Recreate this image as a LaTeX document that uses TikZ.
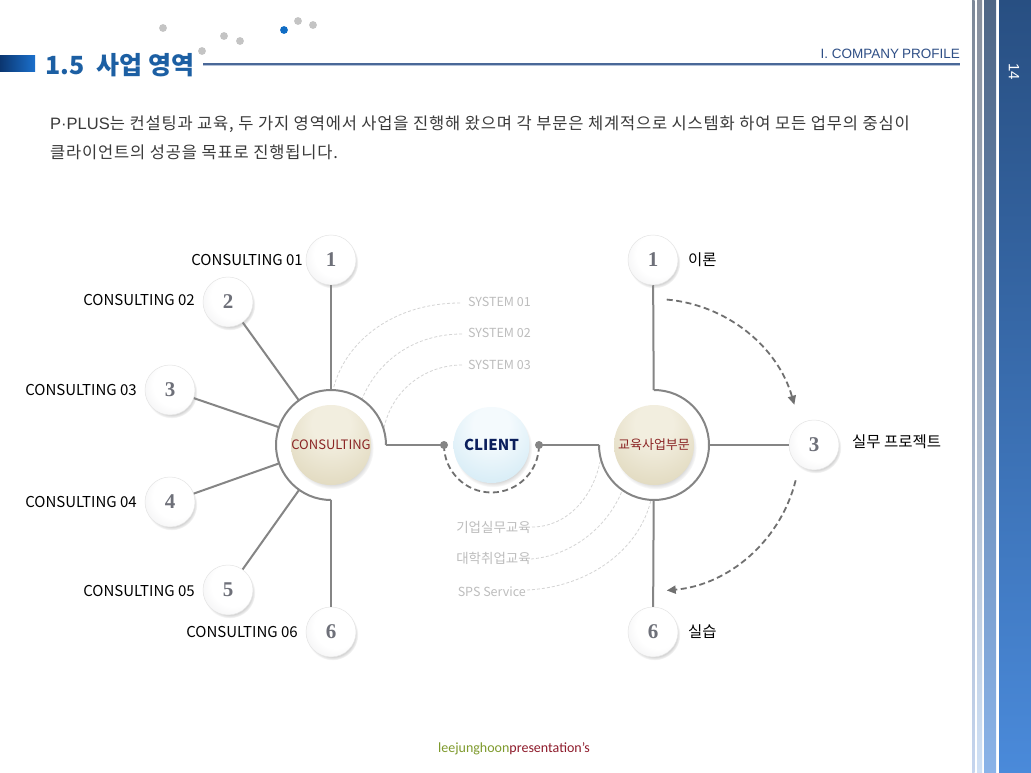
\documentclass[tikz,border=0pt]{standalone}
\usepackage{fontspec}
\setmainfont{Noto Sans CJK KR}
\newfontfamily\numfont{Liberation Serif}
\newfontfamily\footfont{Carlito}
\newfontfamily\latinfont{Liberation Sans}
\newfontfamily\bodyfont[LetterSpace=5]{Noto Sans CJK KR}
\usetikzlibrary{calc,shadows,arrows.meta,fadings}
\definecolor{titleblue}{HTML}{1C5FA3}
\definecolor{barL}{HTML}{0B3670}
\definecolor{barR}{HTML}{1B70CC}
\definecolor{dotgray}{HTML}{C4C4C4}
\definecolor{dotblue}{HTML}{0F6CC4}
\definecolor{hline}{HTML}{4A6898}
\definecolor{hlinelight}{HTML}{B4C2D8}
\definecolor{proftext}{HTML}{2F4F86}
\definecolor{bodytext}{HTML}{3A3A3A}
\definecolor{conngray}{HTML}{858585}
\definecolor{numgray}{HTML}{6E7079}
\definecolor{lightdash}{HTML}{D4D4D4}
\definecolor{lighttext}{HTML}{BDBDBD}
\definecolor{darkred}{HTML}{8B2525}
\definecolor{navy}{HTML}{0B1F5C}
\definecolor{dashgray}{HTML}{707070}
\definecolor{footgreen}{HTML}{7E9A2C}
\definecolor{footred}{HTML}{8E1B2B}
\definecolor{wA}{HTML}{FFFFFF}
\definecolor{wB}{HTML}{E6E6E8}
\definecolor{wC}{HTML}{C2C2C6}
\definecolor{bA}{HTML}{F2EEDF}
\definecolor{bB}{HTML}{DFD7BB}
\definecolor{bC}{HTML}{C4B88E}
\definecolor{bD}{HTML}{A39668}
\definecolor{cA}{HTML}{F4FAFD}
\definecolor{cB}{HTML}{D2EAF5}
\definecolor{cC}{HTML}{AFD4E7}
\definecolor{cD}{HTML}{86B6CF}
\definecolor{s1t}{HTML}{7D8898}
\definecolor{s1b}{HTML}{C5D5EE}
\definecolor{s2t}{HTML}{868E9C}
\definecolor{s2b}{HTML}{CFE0F5}
\definecolor{s3t}{HTML}{4F6685}
\definecolor{s3b}{HTML}{8AB3E8}
\definecolor{s4t}{HTML}{284F82}
\definecolor{s4b}{HTML}{4A8ADA}
\pgfdeclareradialshading{whiteball}{\pgfpoint{8bp}{8bp}}{color(0bp)=(wA); color(22bp)=(wA); color(48bp)=(wB); color(68bp)=(wC)}
\pgfdeclareradialshading{beigeball}{\pgfpoint{0bp}{16bp}}{color(0bp)=(bA); color(12bp)=(bA); color(38bp)=(bB); color(56bp)=(bC); color(68bp)=(bD)}
\pgfdeclareradialshading{blueball}{\pgfpoint{0bp}{16bp}}{color(0bp)=(cA); color(12bp)=(cA); color(38bp)=(cB); color(56bp)=(cC); color(68bp)=(cD)}
\begin{document}
\begin{tikzpicture}[x=1pt,y=1pt,
  num/.style={circle, minimum size=50pt, inner sep=0pt, shading=whiteball, draw=black!10, line width=0.5pt,
    circular drop shadow={shadow xshift=1.5pt, shadow yshift=-2.5pt, shadow scale=1.03, opacity=0.35},
    text=numgray, font=\numfont\bfseries\fontsize{21pt}{21pt}\selectfont},
  hub/.style={circle, minimum size=80pt, inner sep=0pt,
    circular drop shadow={shadow xshift=1.5pt, shadow yshift=-3pt, shadow scale=1.03, opacity=0.35}},
  conn/.style={draw=conngray, line width=2pt},
  ringline/.style={draw=conngray, line width=2pt},
  sysdash/.style={draw=lightdash, line width=0.8pt, dash pattern=on 3pt off 2pt},
  cdash/.style={draw=dashgray, line width=1.8pt, dash pattern=on 6pt off 3.5pt},
  darr/.style={draw=dashgray, line width=1.8pt, dash pattern=on 6pt off 3.5pt, -{Triangle[length=9pt,width=8pt]}},
  clbl/.style={inner sep=0pt, font=\fontsize{15pt}{15pt}\selectfont, text=black},
  klbl/.style={inner sep=0pt, font=\fontsize{15.5pt}{15.5pt}\selectfont, text=black},
  slbl/.style={inner sep=0pt, font=\fontsize{12.5pt}{12.5pt}\selectfont, text=lighttext},
  kslbl/.style={inner sep=0pt, font=\fontsize{13.5pt}{13.5pt}\selectfont, text=lighttext},
  bodyline/.style={inner sep=0pt, anchor=base west, font=\bodyfont\fontsize{16.5pt}{18pt}\selectfont, text=bodytext},
  dotst/.style={fill=conngray}
]
\useasboundingbox (0,0) rectangle (1031,-773);
\fill[white] (0,0) rectangle (1031,-773);

% ---- header ----
\shade[left color=barL, right color=barR] (0,-56) rectangle (35,-72);
\node[anchor=base west, inner sep=0pt, text=titleblue, font=\bfseries\fontsize{25pt}{25pt}\selectfont] (title) at (45,-75) {1.5\hspace{12pt}사업 영역};
\foreach \dx/\dy/\dc in {163/28/dotgray, 202/51/dotgray, 224/36/dotgray, 240/41/dotgray, 284/30/dotblue, 298/21/dotgray, 313/25/dotgray}
  \fill[\dc] (\dx,-\dy) circle[radius=3.9pt];
\coordinate (hlA) at (203,-64);
\coordinate (hlB) at (960,-64);
\draw[hlinelight, line width=1.2pt] ($(hlA)+(0,-1.3)$) -- ($(hlB)+(0,-1.3)$);
\draw[hline, line width=1.2pt] (hlA) -- (hlB);
\node[anchor=base east, inner sep=0pt, text=proftext, font=\latinfont\fontsize{13.5pt}{13.5pt}\selectfont] (prof) at (960,-59) {I. COMPANY\hspace{3pt}PROFILE};

% ---- sidebar ----
\shade[top color=s1t, bottom color=s1b] (972,0) rectangle (974.5,-773);
\shade[top color=s2t, bottom color=s2b] (977,0) rectangle (982,-773);
\shade[top color=s3t, bottom color=s3b] (984,0) rectangle (996,-773);
\shade[top color=s4t, bottom color=s4b] (999,0) rectangle (1031,-773);
\node[rotate=-90, inner sep=0pt, text=white, font=\latinfont\fontsize{15pt}{15pt}\selectfont] (page) at (1014,-72) {14};

% ---- body text ----
\node[bodyline] (p1) at (50,-130) {{\latinfont P·PLUS}는 컨설팅과 교육, 두 가지 영역에서 사업을 진행해 왔으며 각 부문은 체계적으로 시스템화 하여 모든 업무의 중심이};
\node[bodyline] (p2) at (50,-158) {클라이언트의 성공을 목표로 진행됩니다.};

% ---- light dashed system curves ----
\draw[sysdash] (460,-303) .. controls (395,-303) and (345,-340) .. (333,-390);
\draw[sysdash] (462,-334) .. controls (415,-334) and (378,-360) .. (362,-399);
\draw[sysdash] (462,-365) .. controls (425,-365) and (392,-390) .. (384,-428);
\draw[sysdash] (532,-527) .. controls (565,-527) and (592,-500) .. (600,-462);
\draw[sysdash] (531,-559) .. controls (569,-556) and (606,-530) .. (622,-491);
\draw[sysdash] (527,-590) .. controls (589,-587) and (639,-550) .. (651,-500);
\node[slbl, anchor=west] (sys1) at (468,-302) {SYSTEM 01};
\node[slbl, anchor=west] (sys2) at (468,-333) {SYSTEM 02};
\node[slbl, anchor=west] (sys3) at (468,-365) {SYSTEM 03};
\node[kslbl, anchor=east] (edu1) at (531,-527) {기업실무교육};
\node[kslbl, anchor=east] (edu2) at (531,-558) {대학취업교육};
\node[slbl, anchor=east] (edu3) at (526,-592) {SPS Service};

% ---- centres ----
\coordinate (consC) at (331,-445);
\coordinate (eduC) at (654,-445);
\coordinate (clientC) at (491.5,-445);
\coordinate (consR) at ($(consC)+(55,0)$);
\coordinate (eduL) at ($(eduC)+(-55,0)$);
\coordinate (dotL) at (444,-445);
\coordinate (dotR) at (539,-445);

% ---- number circles ----
\node[num] (c1) at (331,-260) {1};
\node[num] (c2) at (228,-302) {2};
\node[num] (c3) at (170,-390) {3};
\node[num] (c4) at (170,-502) {4};
\node[num] (c5) at (228,-590) {5};
\node[num] (c6) at (331,-632) {6};
\node[num] (e1) at (653,-260) {1};
\node[num] (e3) at (814,-445) {3};
\node[num] (e6) at (653,-632) {6};

% ---- rings and connectors ----
\draw[ringline] (consR) arc[start angle=0, end angle=270, radius=55pt];
\draw[ringline] (eduL) arc[start angle=180, end angle=450, radius=55pt];
\foreach \n in {c1,c2,c3,c4,c5,c6}
  \draw[conn] ($(consC)!55pt!(\n)$) -- (\n);
\foreach \n in {e1,e3,e6}
  \draw[conn] ($(eduC)!55pt!(\n)$) -- (\n);
\draw[conn] (consR) -- (dotL);
\draw[conn] (dotR) -- (eduL);
\draw[cdash] (dotL) arc[start angle=180, end angle=360, radius=47.5pt];
\fill[dotst] (dotL) circle[radius=4pt];
\fill[dotst] (dotR) circle[radius=4pt];

% ---- hubs ----
\node[hub, shading=beigeball, text=darkred, font=\fontsize{13pt}{13pt}\selectfont] (cons) at (consC) {CONSULTING};
\node[hub, minimum size=76pt, shading=blueball, text=navy, font=\bfseries\fontsize{15pt}{15pt}\selectfont] (client) at (clientC) {CLIENT};
\node[hub, shading=beigeball, text=darkred, font=\fontsize{13pt}{13pt}\selectfont] (edu) at (eduC) {교육사업부문};

% ---- dashed arrows ----
\coordinate (a1s) at ($(eduC)+(85:146pt)$);
\coordinate (a2s) at ($(eduC)+(-14:146pt)$);
\draw[darr] (a1s) arc[start angle=85, end angle=16, radius=146pt];
\draw[darr] (a2s) arc[start angle=-14, end angle=-85, radius=146pt];

% ---- labels ----
\node[clbl, anchor=east] (l1) at (303,-260) {CONSULTING 01};
\node[clbl, anchor=east] (l2) at (195,-300) {CONSULTING 02};
\node[clbl, anchor=east] (l3) at (137,-390) {CONSULTING 03};
\node[clbl, anchor=east] (l4) at (137,-502) {CONSULTING 04};
\node[clbl, anchor=east] (l5) at (195,-591) {CONSULTING 05};
\node[clbl, anchor=east] (l6) at (298,-632) {CONSULTING 06};
\node[klbl, anchor=west] (r1) at (688,-260) {이론};
\node[klbl, anchor=west] (r3) at (852,-442) {실무 프로젝트};
\node[klbl, anchor=west] (r6) at (688,-632) {실습};

% ---- footer ----
\node[anchor=west, inner sep=0pt, font=\footfont\fontsize{14pt}{14pt}\selectfont] (foot) at (438,-749) {\textcolor{footgreen}{leejunghoon}\textcolor{footred}{presentation’s}};
\end{tikzpicture}
\end{document}
